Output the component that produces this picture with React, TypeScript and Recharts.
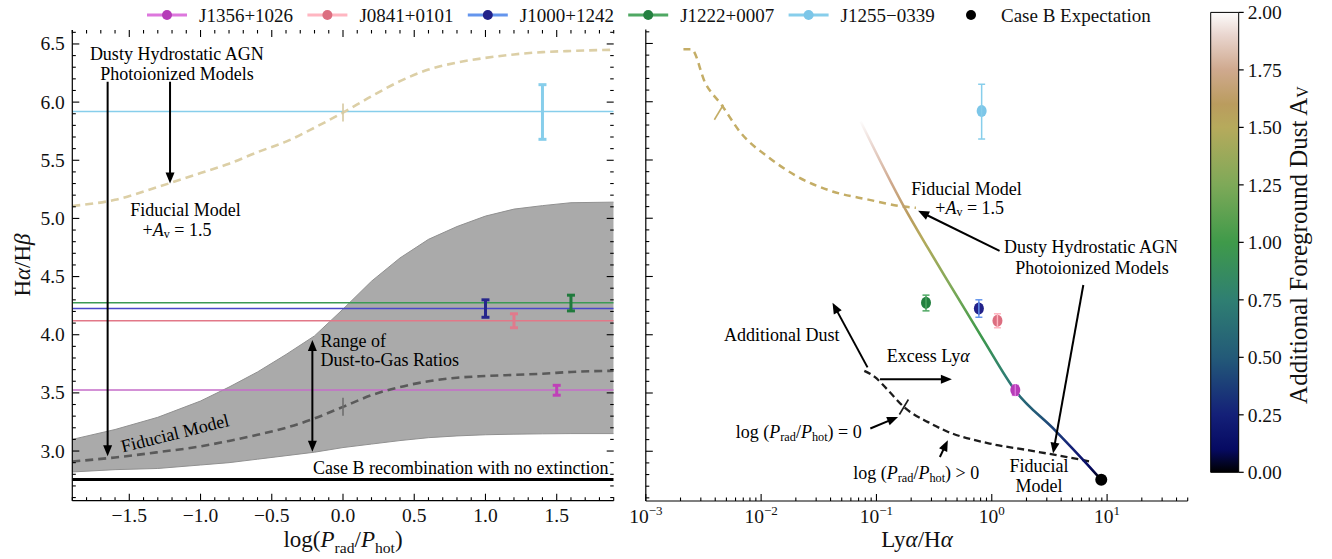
import React from 'react';
import {
  ComposedChart, Line, Area, Scatter, XAxis, YAxis, ReferenceLine, ReferenceDot, ErrorBar, BarChart, Bar,
} from 'recharts';

const FONT = '"Liberation Serif", "Times New Roman", Times, serif';
const TICK_FS = 19.5;
const NOTE_FS = 18;

// ---------------- data ----------------
const objNames = ['J1356+1026', 'J0841+0101', 'J1000+1242', 'J1222+0007', 'J1255\u22120339'];
const objBalmer = [3.525, 4.12, 4.225, 4.275, 5.92];
const objErrLow = [0.045, 0.06, 0.075, 0.07, 0.24];
const objErrHigh = [0.04, 0.06, 0.075, 0.065, 0.23];
const objLogP = [1.5, 1.2, 1.0, 1.6, 1.4];
const objLyaHa = [1.6, 1.12, 0.773, 0.269, 0.817];
const objHLineColor = ['#c46cc8', '#e27888', '#4848c8', '#3d9a55', '#87ceeb'];
const objLeftBarColor = ['#c040b8', '#e07a8c', '#26268c', '#1f7a3c', '#87ceeb'];
const objEColor = ['#dd77dd', '#ffb6c1', '#6495ed', '#4fa863', '#87ceeb'];
const objMarkerColor = ['#b63cb8', '#dc6e80', '#22228a', '#248040', '#7cc6e8'];

const caseB = 2.755;
const caseBLya = 8.9;

// left panel: Halpha/Hbeta vs log(Prad/Phot)
const logP = [-1.9, -1.6, -1.3, -1.0, -0.8, -0.6, -0.4, -0.2, 0.0, 0.2, 0.4, 0.6, 0.8, 1.0, 1.2, 1.4, 1.6, 1.9];
const bandUpper = [3.10, 3.185, 3.29, 3.43, 3.55, 3.68, 3.83, 3.99, 4.22, 4.46, 4.66, 4.82, 4.93, 5.02, 5.08, 5.11, 5.135, 5.14];
const bandLower = [2.82, 2.84, 2.85, 2.88, 2.90, 2.93, 2.96, 2.99, 3.03, 3.06, 3.09, 3.115, 3.13, 3.14, 3.145, 3.148, 3.15, 3.15];
const fiducial = [2.91, 2.945, 2.99, 3.04, 3.087, 3.14, 3.20, 3.28, 3.38, 3.48, 3.55, 3.60, 3.63, 3.645, 3.655, 3.665, 3.68, 3.69];
const dustyAv15 = [5.107, 5.16, 5.27, 5.39, 5.47, 5.57, 5.66, 5.78, 5.91, 6.05, 6.18, 6.28, 6.34, 6.38, 6.41, 6.43, 6.44, 6.45];

// right panel: Halpha/Hbeta vs Lya/Halpha
const fidLya = [0.0785, 0.096, 0.127, 0.173, 0.28, 0.41, 0.92, 2.04, 4.5, 7.25];
const fidRatio = [3.69, 3.64, 3.52, 3.38, 3.25, 3.17, 3.07, 3.01, 2.95, 2.91];
const dustyLya = [0.00212, 0.00249, 0.00328, 0.00452, 0.0067, 0.0117, 0.0204, 0.0416, 0.085, 0.173, 0.22];
const dustyRatio = [6.45, 6.45, 6.16, 5.975, 5.73, 5.52, 5.36, 5.23, 5.16, 5.10, 5.09];
const avLya = [0.073, 0.173, 0.28, 0.44, 0.849, 1.6, 3.54, 6.7, 8.9];
const avRatio = [5.83, 5.10, 4.743, 4.42, 3.954, 3.52, 3.18, 2.89, 2.755];

// colormap (gist_earth-like) for A_V
const cmapAv = [0, 0.1, 0.25, 0.5, 0.75, 1.0, 1.25, 1.5, 1.6, 1.75, 1.9, 2.0];
const cmapColor = ['#000000', '#060a62', '#142078', '#235a78', '#2f7f72', '#3f9a4a', '#7ea958', '#b6aa5c', '#ba9c5e', '#cfa98e', '#e9d5ce', '#fdfcfc'];
const cbTicks = [0, 0.25, 0.5, 0.75, 1.0, 1.25, 1.5, 1.75, 2.0];

// ticks
const yDomain: [number, number] = [2.573, 6.62];
const leftXDomain: [number, number] = [-1.9, 1.9];
const rightXDomain: [number, number] = [0.001, 50];
const yTicksAll = Array.from({ length: 41 }, (_, i) => +(2.6 + i * 0.1).toFixed(1));
const yMajor = [3.0, 3.5, 4.0, 4.5, 5.0, 5.5, 6.0, 6.5];
const leftXTicks = Array.from({ length: 39 }, (_, i) => +(-1.9 + i * 0.1).toFixed(1));
const leftXMajor = [-1.5, -1.0, -0.5, 0.0, 0.5, 1.0, 1.5];
const rightXMajor = [0.001, 0.01, 0.1, 1, 10];
const rightXTicks: number[] = [];
[-3, -2, -1, 0, 1].forEach((d) => {
  for (let m = 1; m <= 9; m++) {
    const v = +(m * Math.pow(10, d)).toPrecision(3);
    if (v <= 50) rightXTicks.push(v);
  }
});

// ---------------- helpers ----------------
const isHalf = (v: number) => Math.abs(v * 2 - Math.round(v * 2)) < 1e-6;
const isDecade = (v: number) => {
  const l = Math.log10(v);
  return Math.abs(l - Math.round(l)) < 1e-6;
};
const fmt1 = (v: number) => v.toFixed(1).replace('-', '\u2212');
const fmtPow = (v: number) => {
  const e = Math.round(Math.log10(v));
  return [
    <tspan key="b">10</tspan>,
    <tspan key="e" fontSize={13} dy={-8}>{e < 0 ? '\u2212' + -e : String(e)}</tspan>,
  ];
};

// tick labels only (tick marks are drawn with ReferenceLine shapes below)
const labelFactory = (side: string, label: (v: number) => React.ReactNode) => (props: any) => {
  const { x, y, payload } = props;
  const v = Number(payload?.value);
  if (side === 'bottom') {
    return (
      <text x={x} y={y + 21.5} textAnchor="middle" fontFamily={FONT} fontSize={TICK_FS} fill="#111">
        {label(v)}
      </text>
    );
  }
  return (
    <text x={x - 7.5} y={y} textAnchor="end" dominantBaseline="central" fontFamily={FONT} fontSize={TICK_FS} fill="#111">
      {label(v)}
    </text>
  );
};

const tickMarks = (
  key: string,
  values: number[],
  axis: 'x' | 'y',
  isMajor: (v: number) => boolean,
  sideA: boolean,
  sideB: boolean,
) =>
  values.map((v) => (
    <ReferenceLine
      key={key + v}
      {...(axis === 'x' ? { x: v } : { y: v })}
      ifOverflow="visible"
      shape={(p: any) => {
        const len = isMajor(v) ? 7 : 3.5;
        const { x1, y1, x2, y2 } = p;
        if ([x1, y1, x2, y2].some((q) => typeof q !== 'number' || isNaN(q))) return <g />;
        if (axis === 'x') {
          const top = Math.min(y1, y2);
          const bot = Math.max(y1, y2);
          return (
            <g>
              {sideA ? <line x1={x1} y1={bot} x2={x1} y2={bot - len} stroke="#000" strokeWidth={1.1} /> : null}
              {sideB ? <line x1={x1} y1={top} x2={x1} y2={top + len} stroke="#000" strokeWidth={1.1} /> : null}
            </g>
          );
        }
        const left = Math.min(x1, x2);
        const right = Math.max(x1, x2);
        return (
          <g>
            {sideA ? <line x1={left} y1={y1} x2={left + len} y2={y1} stroke="#000" strokeWidth={1.1} /> : null}
            {sideB ? <line x1={right} y1={y1} x2={right - len} y2={y1} stroke="#000" strokeWidth={1.1} /> : null}
          </g>
        );
      }}
    />
  ));

const axisStyle = { stroke: '#000', strokeWidth: 1.2 };

const pTspans = (fs: number, key: string) => {
  const s = fs * 0.68;
  const d = fs * 0.28;
  return [
    <tspan key={key + 'a'} fontStyle="italic">P</tspan>,
    <tspan key={key + 'b'} fontSize={s} dy={d}>rad</tspan>,
    <tspan key={key + 'c'} dy={-d}>/</tspan>,
    <tspan key={key + 'd'} fontStyle="italic">P</tspan>,
    <tspan key={key + 'e'} fontSize={s} dy={d}>hot</tspan>,
    <tspan key={key + 'f'} dy={-d}>)</tspan>,
  ];
};

const avLabel = (key: string) => [
  <tspan key={key + '1'}>+</tspan>,
  <tspan key={key + '2'} fontStyle="italic">A</tspan>,
  <tspan key={key + '3'} fontSize={12} dy={4}>v</tspan>,
  <tspan key={key + '4'} dy={-4}> = 1.5</tspan>,
];

const note = (key: string, x: number, y: number, content: React.ReactNode, anchor: string = 'middle', rotate = 0) => (
  <ReferenceDot
    key={key}
    x={x}
    y={y}
    r={0}
    ifOverflow="visible"
    shape={(p: any) => (
      <text
        x={p.cx}
        y={p.cy}
        textAnchor={anchor as any}
        dominantBaseline="central"
        fontFamily={FONT}
        fontSize={NOTE_FS}
        fill="#000"
        transform={rotate ? `rotate(${rotate} ${p.cx} ${p.cy})` : undefined}
      >
        {content}
      </text>
    )}
  />
);

const ArrowShape = (p: any) => {
  const { x1, y1, x2, y2, both } = p;
  if ([x1, y1, x2, y2].some((v) => typeof v !== 'number' || isNaN(v))) return <g />;
  const L = Math.hypot(x2 - x1, y2 - y1) || 1;
  const ux = (x2 - x1) / L;
  const uy = (y2 - y1) / L;
  const hl = 11;
  const hw = 4.5;
  const head = (tx: number, ty: number, dx: number, dy: number) => {
    const bx = tx - dx * hl;
    const by = ty - dy * hl;
    return `${tx},${ty} ${bx - dy * hw},${by + dx * hw} ${bx + dy * hw},${by - dx * hw}`;
  };
  const sx = both ? x1 + ux * (hl - 2) : x1;
  const sy = both ? y1 + uy * (hl - 2) : y1;
  return (
    <g>
      <line x1={sx} y1={sy} x2={x2 - ux * (hl - 2)} y2={y2 - uy * (hl - 2)} stroke="#000" strokeWidth={2} />
      <polygon points={head(x2, y2, ux, uy)} fill="#000" />
      {both ? <polygon points={head(x1, y1, -ux, -uy)} fill="#000" /> : null}
    </g>
  );
};

const arrow = (key: string, x1: number, y1: number, x2: number, y2: number, both = false) => (
  <ReferenceLine
    key={key}
    segment={[{ x: x1, y: y1 }, { x: x2, y: y2 }]}
    ifOverflow="visible"
    shape={(p: any) => <ArrowShape x1={p.x1} y1={p.y1} x2={p.x2} y2={p.y2} both={both} />}
  />
);

const tickMark = (color: string, slant: boolean) => (p: any) => {
  const { cx, cy } = p;
  if (slant) return <line x1={cx - 4.5} y1={cy + 7.5} x2={cx + 4.5} y2={cy - 7.5} stroke={color} strokeWidth={1.6} />;
  return <line x1={cx} y1={cy - 9} x2={cx} y2={cy + 9} stroke={color} strokeWidth={1.6} />;
};

// ---------------- built tables ----------------
const leftData = logP.map((x, i) => ({
  x,
  band: [bandLower[i], bandUpper[i]],
  fid: fiducial[i],
  dusty: dustyAv15[i],
}));
const fidData = fidLya.map((x, i) => ({ x, y: fidRatio[i] }));
const dustyData = dustyLya.map((x, i) => ({ x, y: dustyRatio[i] }));
const avData = avLya.map((x, i) => ({ x, y: avRatio[i] }));
const avSlope = Math.log10(avRatio[0] / caseB) / 2;
const lineStops = cmapAv
  .map((a, i) => {
    const r = caseB * Math.pow(10, avSlope * a);
    const off = (avRatio[0] - r) / (avRatio[0] - avRatio[avRatio.length - 1]);
    return { offset: Math.min(1, Math.max(0, off)), color: cmapColor[i] };
  })
  .sort((p, q) => p.offset - q.offset);
const cbStops = cmapAv
  .map((a, i) => ({ offset: 1 - a / 2, color: cmapColor[i] }))
  .sort((p, q) => p.offset - q.offset);

export default function App() {
  const leftBottom = labelFactory('bottom', fmt1);
  const leftLeft = labelFactory('left', fmt1);
  const rightBottom = labelFactory('bottom', fmtPow);

  return (
    <div style={{ position: 'absolute', left: 0, top: 0, width: 1332, height: 559, background: '#fff' }}>
      {/* ---------- left panel ---------- */}
      <div style={{ position: 'absolute', left: 0, top: 0 }}>
        <ComposedChart width={640} height={559} data={leftData} margin={{ top: 30, right: 26.3, bottom: 0, left: 0 }}>
          <XAxis dataKey="x" type="number" domain={leftXDomain} allowDataOverflow ticks={leftXMajor} interval={0}
            tickSize={0} tickMargin={0} height={58.3} tick={leftBottom} tickLine={false} axisLine={axisStyle} />
          <XAxis xAxisId="top" orientation="top" type="number" domain={leftXDomain} allowDataOverflow
            height={0} tick={false} tickLine={false} axisLine={axisStyle} />
          <YAxis dataKey="y" type="number" domain={yDomain} allowDataOverflow ticks={yMajor} interval={0}
            tickSize={0} tickMargin={0} width={72.3} tick={leftLeft} tickLine={false} axisLine={axisStyle} />
          <YAxis yAxisId="right" orientation="right" type="number" domain={yDomain} allowDataOverflow
            width={0} tick={false} tickLine={false} axisLine={axisStyle} />

          <Area dataKey="band" type="linear" fill="#aaaaaa" fillOpacity={1} stroke="#909090" strokeWidth={1}
            isAnimationActive={false} dot={false} activeDot={false} />
          {objNames.map((n, i) => (
            <Line key={'h' + n} data={[{ x: -1.9, y: objBalmer[i] }, { x: 1.9, y: objBalmer[i] }]} dataKey="y"
              stroke={objHLineColor[i]} strokeWidth={1.5} dot={false} activeDot={false} isAnimationActive={false} />
          ))}
          <Line data={[{ x: -1.9, y: caseB }, { x: 1.9, y: caseB }]} dataKey="y" stroke="#000" strokeWidth={3}
            dot={false} activeDot={false} isAnimationActive={false} />
          <Line dataKey="dusty" type="monotone" stroke="#dccfa6" strokeWidth={2.6} strokeDasharray="8 5"
            dot={false} activeDot={false} isAnimationActive={false} />
          <Line dataKey="fid" type="monotone" stroke="#5a5a5a" strokeWidth={2.6} strokeDasharray="8 5"
            dot={false} activeDot={false} isAnimationActive={false} />
          <Scatter data={[{ x: 0, y: fiducial[logP.indexOf(0)] }]} shape={tickMark('#6e6e6e', false)} isAnimationActive={false} />
          <Scatter data={[{ x: 0, y: dustyAv15[logP.indexOf(0)] }]} shape={tickMark('#d6c8a0', false)} isAnimationActive={false} />
          {objNames.map((n, i) => (
            <Scatter key={'e' + n} data={[{ x: objLogP[i], y: objBalmer[i], err: [objErrLow[i], objErrHigh[i]] }]}
              shape={() => <g />} isAnimationActive={false}>
              <ErrorBar dataKey="err" direction="y" stroke={objLeftBarColor[i]} strokeWidth={3} width={4} />
            </Scatter>
          ))}

          {tickMarks('lx', leftXTicks, 'x', isHalf, true, true)}
          {tickMarks('ly', yTicksAll, 'y', isHalf, true, true)}

          {note('n1', -1.166, 6.414, 'Dusty Hydrostatic AGN')}
          {note('n2', -1.165, 6.239, 'Photoionized Models')}
          {arrow('a1', -1.652, 6.175, -1.652, 2.955)}
          {arrow('a2', -1.214, 6.175, -1.214, 5.30)}
          {note('n3', -1.105, 5.072, 'Fiducial Model')}
          {note('n4', -1.165, 4.90, avLabel('l'))}
          {note('n5', -0.158, 3.945, 'Range of', 'start')}
          {note('n6', -0.158, 3.785, 'Dust-to-Gas Ratios', 'start')}
          {arrow('a3', -0.215, 3.954, -0.215, 2.994, true)}
          {note('n7', -1.179, 3.152, 'Fiducial Model', 'middle', -14)}
          {note('n8', 1.864, 2.856, 'Case B recombination with no extinction', 'end')}
        </ComposedChart>
      </div>

      {/* ---------- right panel ---------- */}
      <div style={{ position: 'absolute', left: 620, top: 0 }}>
        <ComposedChart width={600} height={559} margin={{ top: 29.5, right: 32.3, bottom: 0, left: 0 }}>
          <defs>
            <linearGradient id="avLineGrad" x1="0" y1="0" x2="0" y2="1">
              {lineStops.map((s, i) => (
                <stop key={i} offset={s.offset} stopColor={s.color} />
              ))}
            </linearGradient>
          </defs>
          <XAxis dataKey="x" type="number" scale="log" domain={rightXDomain} allowDataOverflow ticks={rightXMajor}
            interval={0} tickSize={0} tickMargin={0} height={58} tick={rightBottom} tickLine={false} axisLine={axisStyle} />
          <XAxis xAxisId="top" orientation="top" type="number" scale="log" domain={rightXDomain} allowDataOverflow
            height={0} tick={false} tickLine={false} axisLine={axisStyle} />
          <YAxis dataKey="y" type="number" domain={yDomain} allowDataOverflow
            width={25.8} tick={false} tickLine={false} axisLine={axisStyle} />
          <YAxis yAxisId="right" orientation="right" type="number" domain={yDomain} allowDataOverflow width={0}
            tick={false} tickLine={false} axisLine={axisStyle} />

          <Line data={dustyData} dataKey="y" type="monotone" stroke="#c4ad66" strokeWidth={2.5} strokeDasharray="7 5"
            dot={false} activeDot={false} isAnimationActive={false} />
          <Line data={fidData} dataKey="y" type="monotone" stroke="#1c1c1c" strokeWidth={2.3} strokeDasharray="7 4"
            dot={false} activeDot={false} isAnimationActive={false} />
          <Line data={avData} dataKey="y" type="monotone" stroke="url(#avLineGrad)" strokeWidth={2.6}
            dot={false} activeDot={false} isAnimationActive={false} />
          <Scatter data={[{ x: 0.0043, y: dustyAv15[logP.indexOf(0)] }]} shape={tickMark('#c4ad66', true)} isAnimationActive={false} />
          <Scatter data={[{ x: 0.173, y: fiducial[logP.indexOf(0)] }]} shape={tickMark('#1c1c1c', true)} isAnimationActive={false} />

          {objNames.map((n, i) => (
            <Scatter key={'p' + n} data={[{ x: objLyaHa[i], y: objBalmer[i], err: [objErrLow[i], objErrHigh[i]] }]}
              isAnimationActive={false}
              shape={(p: any) => (
                <g>
                  <ellipse cx={p.cx} cy={p.cy} rx={5} ry={6} fill={objMarkerColor[i]} />
                  <line x1={p.cx} y1={p.cy - 6} x2={p.cx} y2={p.cy + 6} stroke={objEColor[i]} strokeWidth={1.4} />
                </g>
              )}>
              <ErrorBar dataKey="err" direction="y" stroke={objEColor[i]} strokeWidth={1.5} width={3.5} />
            </Scatter>
          ))}
          <Scatter data={[{ x: caseBLya, y: caseB }]} isAnimationActive={false}
            shape={(p: any) => <circle cx={p.cx} cy={p.cy} r={6} fill="#000" />} />

          {tickMarks('rx', rightXTicks, 'x', isDecade, true, false)}
          {tickMarks('ry', yTicksAll, 'y', isHalf, true, false)}

          {note('m1', 0.604, 5.25, 'Fiducial Model')}
          {note('m2', 0.643, 5.087, avLabel('r'))}
          {arrow('b1', 1.169, 4.72, 0.2297, 5.064)}
          {note('m3', 7.25, 4.752, 'Dusty Hydrostatic AGN')}
          {note('m4', 7.41, 4.571, 'Photoionized Models')}
          {arrow('b2', 6.22, 4.427, 3.40, 2.98)}
          {note('m5', 2.57, 2.872, 'Fiducial')}
          {note('m6', 2.57, 2.705, 'Model')}
          {note('m7', 0.01509, 3.997, 'Additional Dust')}
          {arrow('b3', 0.0837, 3.72, 0.0416, 4.275)}
          {note('m8', 0.2818, 3.819, [<tspan key="x1">Excess Ly</tspan>, <tspan key="x2" fontStyle="italic">α</tspan>])}
          {arrow('b4', 0.1074, 3.619, 0.451, 3.619)}
          {note('m9', 0.0212, 3.166, [<tspan key="q0">log (</tspan>, ...pTspans(NOTE_FS, 'q'), <tspan key="q9"> = 0</tspan>])}
          {arrow('b5', 0.0885, 3.195, 0.154, 3.295)}
          {note('m10', 0.2213, 2.813, [<tspan key="w0">log (</tspan>, ...pTspans(NOTE_FS, 'w'), <tspan key="w9"> &gt; 0</tspan>])}
          {arrow('b6', 0.3548, 2.951, 0.416, 3.095)}
        </ComposedChart>
      </div>

      {/* ---------- colorbar ---------- */}
      <div style={{ position: 'absolute', left: 1200, top: 0 }}>
        <BarChart width={132} height={559} data={[{ name: 'Av', v: 2 }]} margin={{ top: 12.4, right: 0, bottom: 86.7, left: 10.7 }}
          barCategoryGap={0}>
          <defs>
            <linearGradient id="cbGrad" x1="0" y1="0" x2="0" y2="1">
              {cbStops.map((s, i) => (
                <stop key={i} offset={s.offset} stopColor={s.color} />
              ))}
            </linearGradient>
          </defs>
          <XAxis dataKey="name" hide />
          <YAxis orientation="right" type="number" domain={[0, 2]} ticks={cbTicks} interval={0} width={93.3}
            tickSize={5} tickMargin={4} tickFormatter={(v: number) => v.toFixed(2)}
            tick={{ fontFamily: FONT, fontSize: TICK_FS, fill: '#111' }} axisLine={false} tickLine={{ stroke: '#000', strokeWidth: 1.2 }} />
          <Bar dataKey="v" fill="url(#cbGrad)" stroke="#000" strokeWidth={1} isAnimationActive={false} />
        </BarChart>
      </div>

      {/* ---------- legend & titles ---------- */}
      <svg width={1332} height={559} style={{ position: 'absolute', left: 0, top: 0, pointerEvents: 'none' }}>
        {objNames.map((n, i) => {
          const x0 = 147 + i * 160.4;
          return (
            <g key={'lg' + n}>
              <line x1={x0} x2={x0 + 40} y1={15} y2={15} stroke={objEColor[i]} strokeWidth={3} />
              <circle cx={x0 + 20} cy={15} r={5} fill={objMarkerColor[i]} />
              <text x={x0 + 52} y={21.5} fontFamily={FONT} fontSize={19} fill="#111">{n}</text>
            </g>
          );
        })}
        <circle cx={971} cy={15} r={5} fill="#000" />
        <text x={1001} y={21.5} fontFamily={FONT} fontSize={19} fill="#111">Case B Expectation</text>

        <text x={22} y={265} transform="rotate(-90 22 265)" textAnchor="middle" dominantBaseline="central"
          fontFamily={FONT} fontSize={23} fill="#111">
          <tspan>H</tspan><tspan fontStyle="italic">α</tspan><tspan>/H</tspan><tspan fontStyle="italic">β</tspan>
        </text>
        <text x={343} y={547} textAnchor="middle" fontFamily={FONT} fontSize={23} fill="#111">
          <tspan>log(</tspan>
          {pTspans(23, 't')}
        </text>
        <text x={917} y={547} textAnchor="middle" fontFamily={FONT} fontSize={23} fill="#111">
          <tspan>Ly</tspan><tspan fontStyle="italic">α</tspan><tspan>/H</tspan><tspan fontStyle="italic">α</tspan>
        </text>
        <text x={1298} y={245} transform="rotate(-90 1298 245)" textAnchor="middle" dominantBaseline="central"
          fontFamily={FONT} fontSize={25} fill="#111">
          <tspan>Additional Foreground Dust A</tspan>
          <tspan fontSize={16} dy={4}>V</tspan>
        </text>
      </svg>
    </div>
  );
}
